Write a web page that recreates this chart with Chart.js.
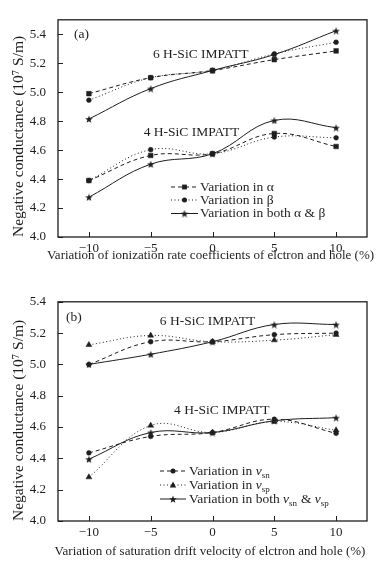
<!DOCTYPE html>
<html>
<head>
<meta charset="utf-8">
<script src="https://cdn.jsdelivr.net/npm/chart.js@4.4.0/dist/chart.umd.min.js"></script>
<style>
  body { margin: 0; background: #fff; }
  canvas { position: absolute; left: 0; }
</style>
</head>
<body>
<canvas id="chartA" width="390" height="282" style="top:0"></canvas>
<canvas id="chartB" width="390" height="283" style="top:282px"></canvas>
<script>
// x positions (% variation) and tick labels
const xValues = [-10, -5, 0, 5, 10];
const xTicks = [-10, -5, 0, 5, 10];
const yTicks = [4.0, 4.2, 4.4, 4.6, 4.8, 5.0, 5.2, 5.4];

// (a) ionization rate coefficients
const a6Alpha = [4.99, 5.10, 5.15, 5.225, 5.285];
const a6Beta  = [4.945, 5.10, 5.15, 5.265, 5.345];
const a6Both  = [4.815, 5.025, 5.15, 5.26, 5.425];
const a4Alpha = [4.39, 4.563, 4.575, 4.715, 4.625];
const a4Beta  = [4.39, 4.603, 4.575, 4.69, 4.685];
const a4Both  = [4.275, 4.503, 4.575, 4.805, 4.755];

// (b) saturation drift velocity
const b6Vsn  = [5.00, 5.145, 5.145, 5.19, 5.20];
const b6Vsp  = [5.125, 5.185, 5.145, 5.155, 5.19];
const b6Both = [5.00, 5.065, 5.145, 5.255, 5.255];
const b4Vsn  = [4.435, 4.54, 4.565, 4.65, 4.56];
const b4Vsp  = [4.28, 4.61, 4.565, 4.635, 4.58];
const b4Both = [4.395, 4.565, 4.565, 4.64, 4.66];

const INK = '#1e1e1e';
const FONT = '"Liberation Serif", "Times New Roman", serif';
Chart.defaults.font.family = FONT;
Chart.defaults.color = INK;

function makeStar(size) {
  const c = document.createElement('canvas');
  c.width = size; c.height = size;
  const g = c.getContext('2d');
  const r = size / 2, ri = r * 0.42;
  g.beginPath();
  for (let i = 0; i < 10; i++) {
    const rad = i % 2 ? ri : r;
    const ang = -Math.PI / 2 + i * Math.PI / 5;
    g.lineTo(r + rad * Math.cos(ang), r + 0.6 + rad * Math.sin(ang));
  }
  g.closePath();
  g.fillStyle = INK;
  g.fill();
  return c;
}
const starImg = makeStar(8);

const DASH = [4, 3];
const DOT = [1, 2.5];

function line(label, ys, style, dash) {
  const radius = style === 'rect' ? 3.3 : style === 'triangle' ? 3.4 : 2.4;
  return {
    label: label,
    data: xValues.map((x, i) => ({ x: x, y: ys[i] })),
    borderColor: INK,
    backgroundColor: INK,
    pointBackgroundColor: INK,
    pointBorderColor: INK,
    pointBorderWidth: 0.5,
    borderWidth: 1,
    borderDash: dash,
    pointStyle: style,
    pointRadius: radius,
    tension: 0.4,
    fill: false
  };
}

function drawMarker(ctx, style, cx, cy) {
  ctx.fillStyle = INK;
  if (style === 'rect') {
    ctx.fillRect(cx - 2.4, cy - 2.4, 4.8, 4.8);
  } else if (style === 'circle') {
    ctx.beginPath(); ctx.arc(cx, cy, 2.5, 0, Math.PI * 2); ctx.fill();
  } else if (style === 'triangle') {
    ctx.beginPath();
    ctx.moveTo(cx, cy - 3.4); ctx.lineTo(cx + 3.2, cy + 2.4); ctx.lineTo(cx - 3.2, cy + 2.4);
    ctx.closePath(); ctx.fill();
  } else {
    ctx.drawImage(starImg, cx - 4, cy - 4);
  }
}

function drawRich(ctx, parts, x, y) {
  parts.forEach(p => {
    if (p.sub) {
      ctx.font = '9px ' + FONT;
      ctx.fillText(p.t, x, y + 5);
    } else {
      ctx.font = (p.it ? 'italic ' : '') + '13.5px ' + FONT;
      ctx.fillText(p.t, x, y);
    }
    x += ctx.measureText(p.t).width + (p.sub ? 0.5 : 0);
  });
}

function makeDecor(cfg) {
  return {
    id: 'decor',
    afterDraw(chart) {
      const { ctx, chartArea: a, scales: { x, y } } = chart;
      ctx.save();
      ctx.strokeStyle = INK;
      ctx.lineWidth = 1.3;
      ctx.setLineDash([]);
      ctx.strokeRect(a.left, a.top, a.right - a.left, a.bottom - a.top);
      ctx.lineWidth = 1;
      ctx.beginPath();
      xTicks.forEach(v => {
        const px = Math.round(x.getPixelForValue(v)) + 0.5;
        ctx.moveTo(px, a.bottom); ctx.lineTo(px, a.bottom - 5);
      });
      yTicks.forEach(v => {
        const py = Math.round(y.getPixelForValue(v)) + 0.5;
        ctx.moveTo(a.left, py); ctx.lineTo(a.left + 5, py);
      });
      ctx.stroke();

      ctx.fillStyle = INK;
      ctx.textBaseline = 'middle';
      ctx.font = '13.5px ' + FONT;
      cfg.labels.forEach(l => {
        ctx.textAlign = l.align || 'center';
        ctx.fillText(l.text, x.getPixelForValue(l.x), y.getPixelForValue(l.y));
      });

      // x axis title, drawn here so it may run wider than the plot
      ctx.textAlign = 'center';
      ctx.font = '13px ' + FONT;
      ctx.fillText(cfg.xTitle, cfg.xTitleX, cfg.xTitleY);

      ctx.textAlign = 'left';
      cfg.legend.forEach(item => {
        ctx.strokeStyle = INK;
        ctx.lineWidth = 1;
        ctx.setLineDash(item.dash);
        ctx.beginPath();
        ctx.moveTo(cfg.lx1, item.y); ctx.lineTo(cfg.lx2, item.y);
        ctx.stroke();
        ctx.setLineDash([]);
        drawMarker(ctx, item.style, (cfg.lx1 + cfg.lx2) / 2, item.y);
        ctx.fillStyle = INK;
        drawRich(ctx, item.parts, cfg.tx, item.y);
      });
      ctx.restore();
    }
  };
}

function makeOptions(yMax, padTop, xAxisH) {
  return {
    responsive: false,
    animation: false,
    layout: { padding: { top: padTop, right: 23, left: 0, bottom: 0 } },
    plugins: { legend: { display: false }, tooltip: { enabled: false } },
    scales: {
      x: {
        type: 'linear', min: -12.5, max: 12.5,
        grid: { display: false, drawTicks: false },
        border: { display: false },
        afterBuildTicks: s => { s.ticks = xTicks.map(v => ({ value: v })); },
        afterFit: s => { s.height = xAxisH; },
        ticks: {
          padding: 4, font: { size: 13 }, color: INK, maxRotation: 0,
          callback: v => String(v).replace('-', '\u2212')
        },
        title: { display: false }
      },
      y: {
        type: 'linear', min: 4.0, max: yMax,
        grid: { display: false, drawTicks: false },
        border: { display: false },
        afterBuildTicks: s => { s.ticks = yTicks.map(v => ({ value: v })); },
        afterFit: s => { s.width = 58; },
        ticks: { padding: 12, font: { size: 13 }, color: INK, callback: v => v.toFixed(1) },
        title: {
          display: true, text: 'Negative conductance (10\u2077 S/m)', align: 'start', color: INK,
          font: { size: 15.5 }, padding: { top: 10, bottom: 0 }
        }
      }
    }
  };
}

new Chart(document.getElementById('chartA'), {
  type: 'line',
  data: {
    datasets: [
      line('6H alpha', a6Alpha, 'rect', DASH),
      line('6H beta', a6Beta, 'circle', DOT),
      line('6H both', a6Both, starImg, []),
      line('4H alpha', a4Alpha, 'rect', DASH),
      line('4H beta', a4Beta, 'circle', DOT),
      line('4H both', a4Both, starImg, [])
    ]
  },
  options: makeOptions(5.5, 10, 45),
  plugins: [makeDecor({
    xTitle: 'Variation of ionization rate coefficients of elctron and hole (%)',
    xTitleX: 210.5, xTitleY: 256,
    labels: [
      { text: '(a)', x: -11.2, y: 5.40, align: 'left' },
      { text: '6 H-SiC IMPATT', x: -0.95, y: 5.263 },
      { text: '4 H-SiC IMPATT', x: -1.7, y: 4.72 }
    ],
    lx1: 171, lx2: 198, tx: 200,
    legend: [
      { y: 187, style: 'rect', dash: DASH, parts: [{ t: 'Variation in \u03b1' }] },
      { y: 200, style: 'circle', dash: DOT, parts: [{ t: 'Variation in \u03b2' }] },
      { y: 213.5, style: 'star', dash: [], parts: [{ t: 'Variation in both \u03b1 & \u03b2' }] }
    ]
  })]
});

new Chart(document.getElementById('chartB'), {
  type: 'line',
  data: {
    datasets: [
      line('6H vsn', b6Vsn, 'circle', DASH),
      line('6H vsp', b6Vsp, 'triangle', DOT),
      line('6H both', b6Both, starImg, []),
      line('4H vsn', b4Vsn, 'circle', DASH),
      line('4H vsp', b4Vsp, 'triangle', DOT),
      line('4H both', b4Both, starImg, [])
    ]
  },
  options: makeOptions(5.4, 14, 44),
  plugins: [makeDecor({
    xTitle: 'Variation of saturation drift velocity of elctron and hole (%)',
    xTitleX: 210, xTitleY: 269.5,
    labels: [
      { text: '(b)', x: -11.85, y: 5.30, align: 'left' },
      { text: '6 H-SiC IMPATT', x: -0.4, y: 5.276 },
      { text: '4 H-SiC IMPATT', x: 0.75, y: 4.708 }
    ],
    lx1: 160, lx2: 186, tx: 189,
    legend: [
      { y: 189, style: 'circle', dash: DASH, parts: [{ t: 'Variation in ' }, { t: 'v', it: true }, { t: 'sn', sub: true }] },
      { y: 203, style: 'triangle', dash: DOT, parts: [{ t: 'Variation in ' }, { t: 'v', it: true }, { t: 'sp', sub: true }] },
      { y: 217, style: 'star', dash: [], parts: [{ t: 'Variation in both ' }, { t: 'v', it: true }, { t: 'sn', sub: true }, { t: ' & ' }, { t: 'v', it: true }, { t: 'sp', sub: true }] }
    ]
  })]
});
</script>
</body>
</html>
